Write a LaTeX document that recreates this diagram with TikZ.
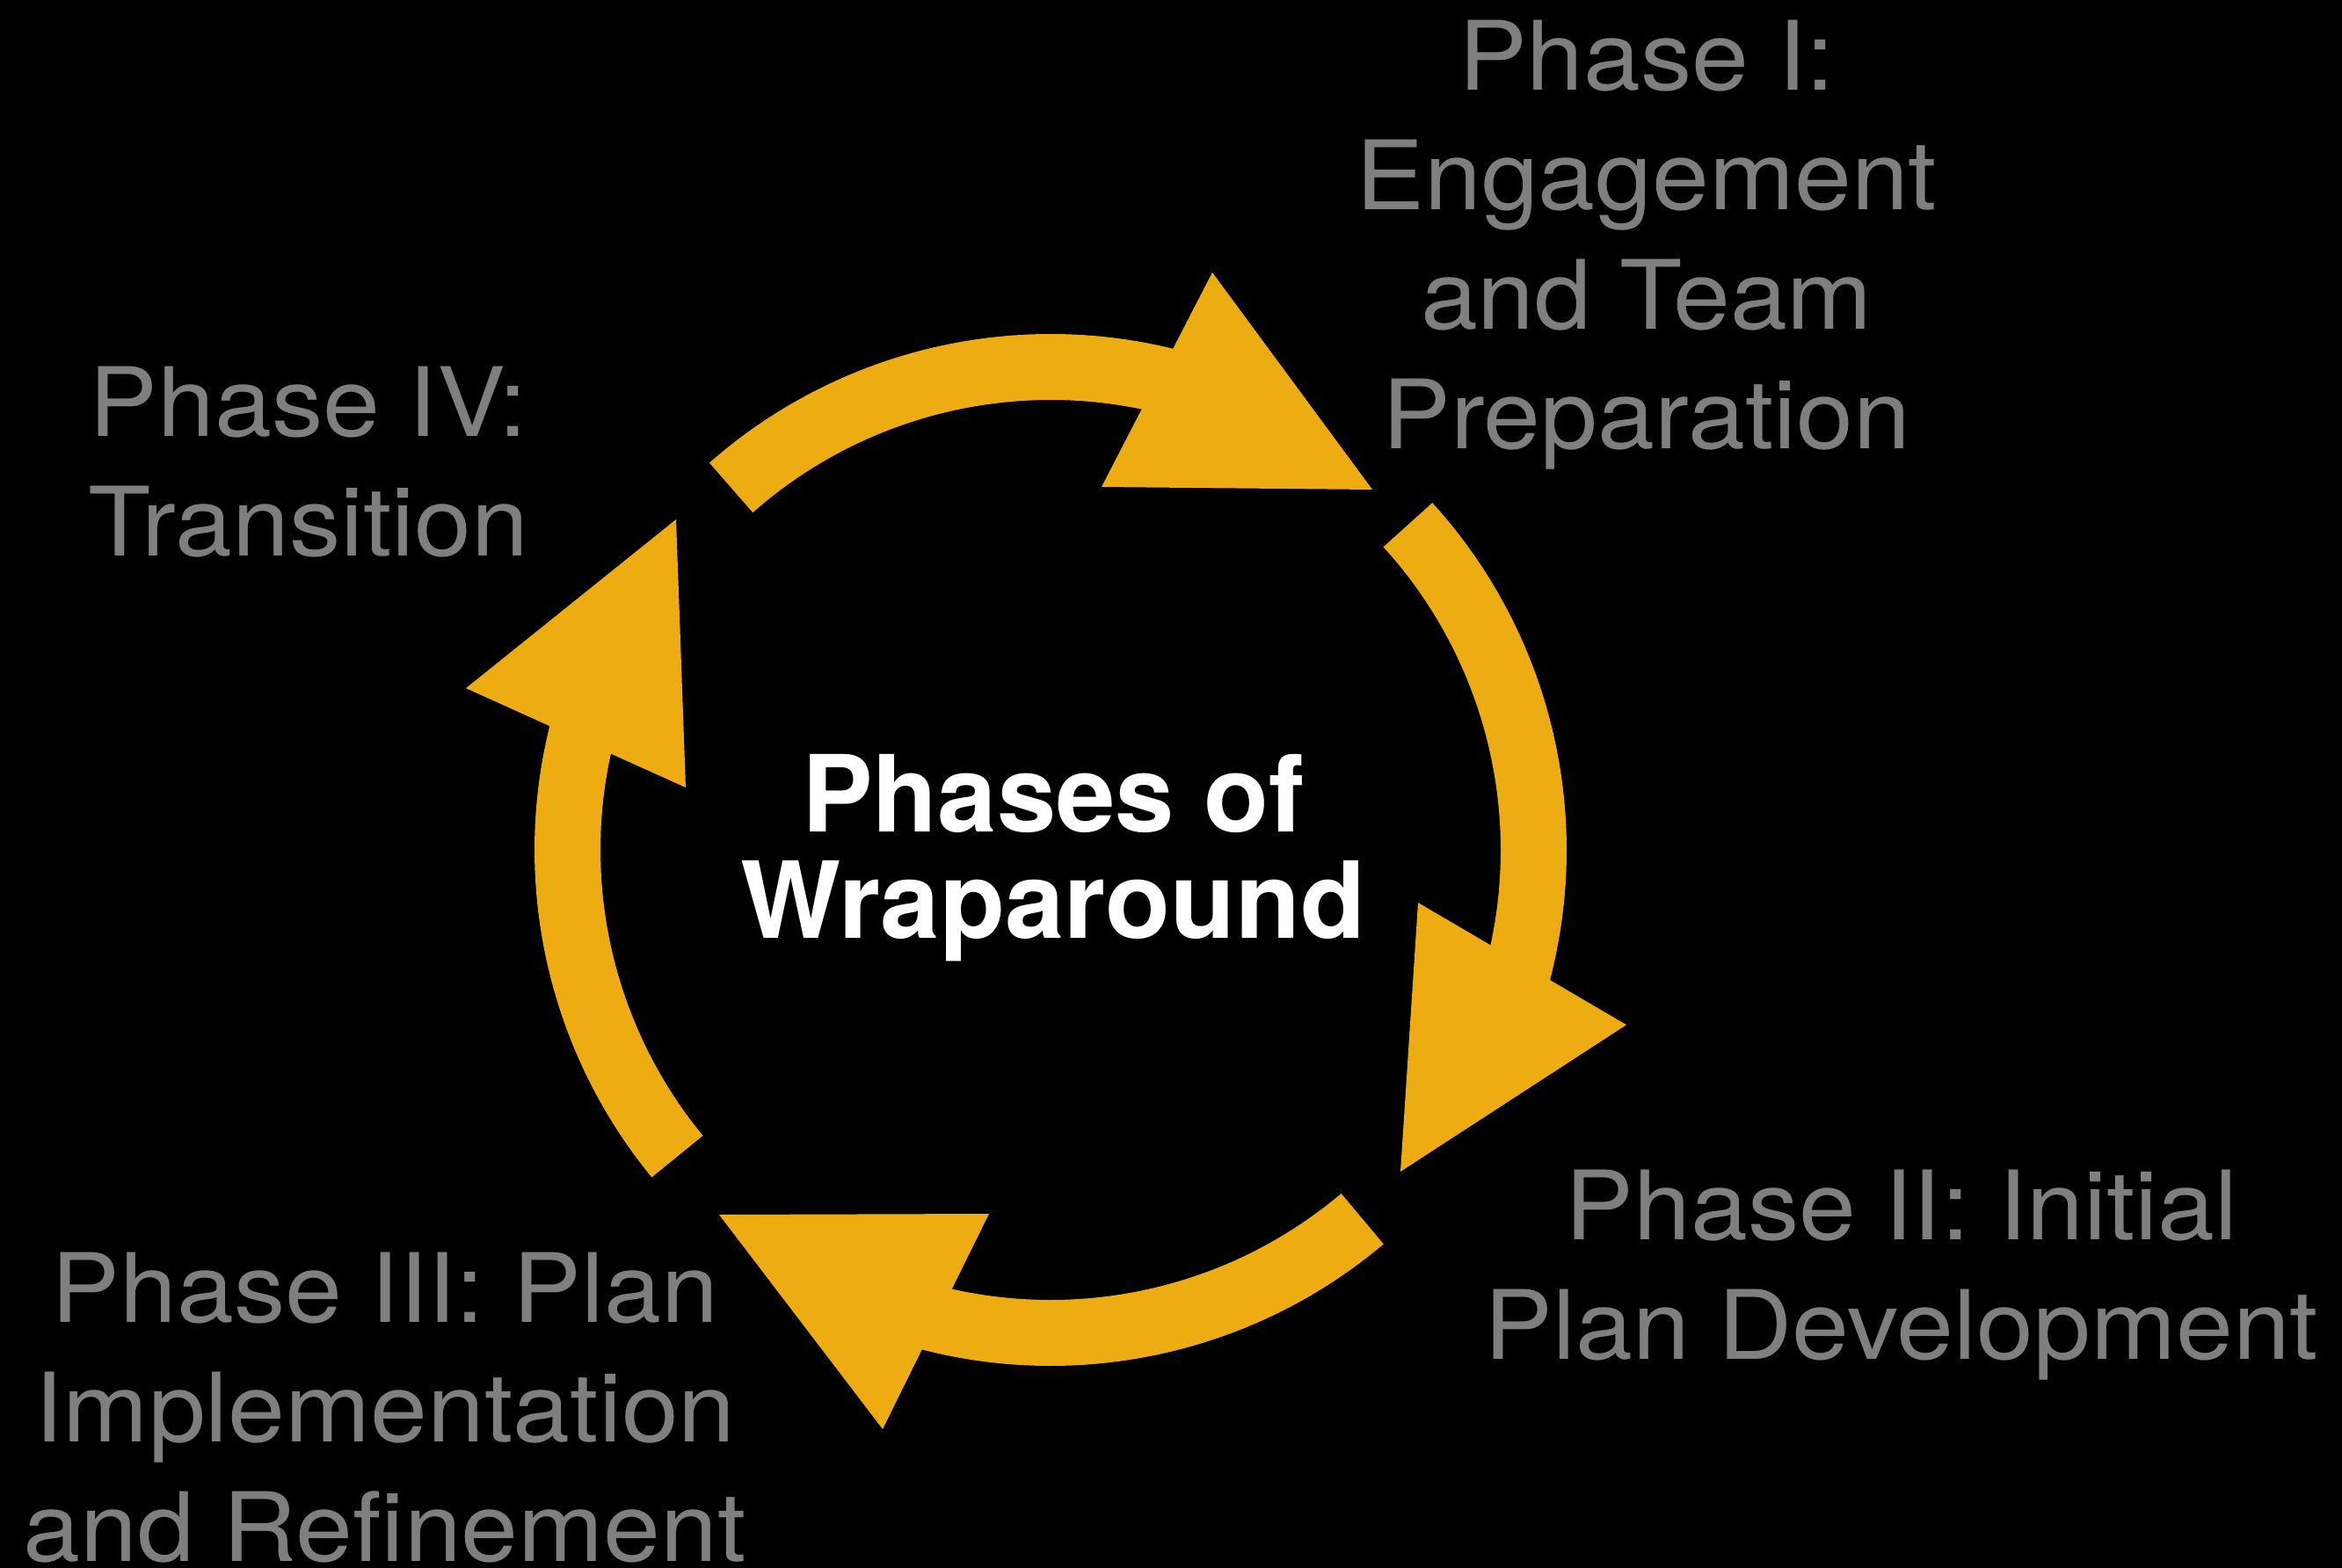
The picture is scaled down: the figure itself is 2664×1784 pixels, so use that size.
\documentclass[tikz,border=0pt]{standalone}
\usepackage{fontspec}
\setmainfont{TeX Gyre Heros}
\newfontfamily\phasefont{TeX Gyre Heros}[FakeStretch=1.07]
\definecolor{wrapgold}{HTML}{EDAC12}
\definecolor{phasegray}{HTML}{7F7F7F}
\tikzset{
  band/.style={draw=wrapgold, line width=75pt},
  head/.style={fill=wrapgold},
  phase/.style={text=phasegray, font=\phasefont\fontsize{109}{136}\selectfont, align=center, inner sep=0pt, anchor=base},
  title/.style={text=white, font=\fontsize{121}{121}\selectfont\bfseries, align=center, inner sep=0pt, anchor=base}
}
\begin{document}
\begin{tikzpicture}[x=1pt,y=1pt]
\fill[black] (0,0) rectangle (2664,-1784);
\useasboundingbox (0,0) rectangle (2664,-1784);
\coordinate (c) at (1195,-967);
% arcs (clockwise)
\draw[band] (c) ++(131.4:549.5) arc[start angle=131.4, end angle=72, radius=549.5];
\draw[band] (c) ++(42.3:549.5) arc[start angle=42.3, end angle=-19, radius=549.5];
\draw[band] (c) ++(-49.8:549.5) arc[start angle=-49.8, end angle=-109, radius=549.5];
\draw[band] (c) ++(219.4:549.5) arc[start angle=219.4, end angle=161.7, radius=549.5];
% arrowheads
\fill[head] (1379,-310) -- (1253,-554) -- (1561,-557) -- cycle;
\fill[head] (1613,-1027) -- (1850,-1166) -- (1593,-1333) -- cycle;
\fill[head] (1125,-1381) -- (1004,-1626) -- (818,-1382) -- cycle;
\fill[head] (530,-783) -- (780,-896) -- (769,-591) -- cycle;
% labels (anchor = baseline of the last line)
\node[title] (center) at (1198,-1067) {Phases of\\Wraparound};
\node[phase] (p1) at (1873,-510) {Phase I:\\Engagement\\and Team\\Preparation};
\node[phase] (p2) at (2163,-1546) {Phase II: Initial\\Plan Development};
\node[phase] (p3) at (438,-1776) {Phase III: Plan\\Implementation\\and Refinement};
\node[phase] (p4) at (351,-632) {Phase IV:\\Transition};
\end{tikzpicture}
\end{document}
